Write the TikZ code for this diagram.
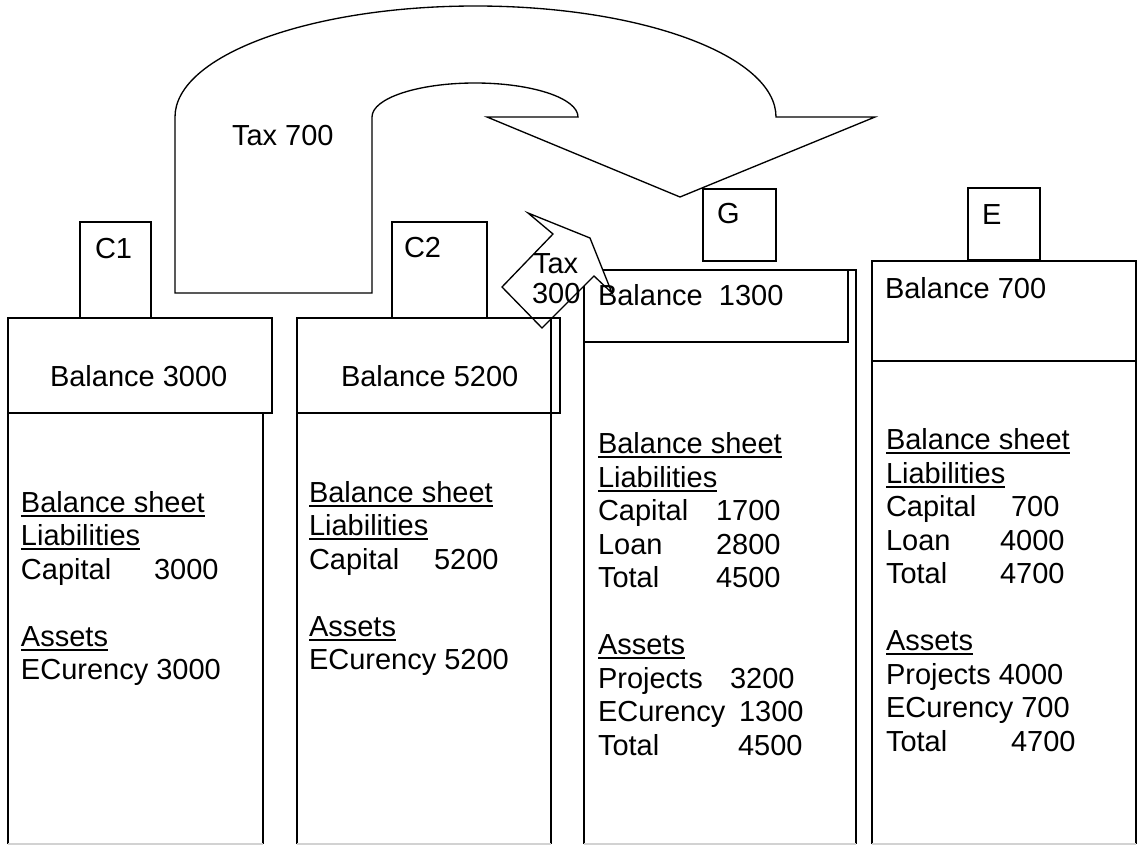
\documentclass[tikz,border=0pt]{standalone}
\usepackage{fontspec}
\setmainfont{Liberation Sans}
\newcommand{\fsz}{\fontsize{21.75pt}{26pt}\selectfont}
\newcommand{\myul}[1]{\setbox0=\hbox{#1}\rlap{\rule[-3.6pt]{\wd0}{1.6pt}}\box0}
\begin{document}
\begin{tikzpicture}[x=0.75pt,y=-0.75pt,line join=miter,
  box/.style={draw, line width=1.4pt},
  arr/.style={draw, line width=1pt},
  t/.style={anchor=base west, inner sep=0pt, outer sep=0pt, font=\fsz}]
\useasboundingbox (0,0) rectangle (1138,845);
\fill[white] (0,0) rectangle (1138,845);

% columns
\foreach \a/\b/\tp in {8/263/318, 297/551/318, 584/856/270, 872/1136/264} {
  \draw[box] (\a,844) -- (\a,\tp) -- (\b,\tp) -- (\b,844);
  \draw[gray!35, line width=1pt] (\a,844) -- (\b,844);
}

% balance boxes
\draw[box, fill=white] (8,318) rectangle (272,413);
\draw[box, fill=white] (584,270) rectangle (848,342);
\draw[box, fill=white] (872,261) rectangle (1136,361);

% tabs
\draw[box, fill=white] (80,222) rectangle (151,318);
\draw[box, fill=white] (392,222) rectangle (487,318);
\draw[box, fill=white] (703,189) rectangle (776,261);
\draw[box, fill=white] (968,188) rectangle (1040,260);

% big U-turn arrow
\draw[arr] (175,293) -- (175,117)
  .. controls (175,55.7) and (309.5,6) .. (475.5,6)
  .. controls (641.5,6) and (776,55.7) .. (776,117)
  -- (875,117) -- (680,197) -- (487,117) -- (578,117)
  .. controls (578,98.2) and (531.9,83) .. (475,83)
  .. controls (418.1,83) and (372,98.2) .. (372,117)
  -- (372,293) -- cycle;

% small arrow
\draw[arr, fill=white] (528,213) -- (590,238) -- (612,293) -- (594,276)
  -- (542,328) -- (502,287) -- (553,234) -- cycle;

% C2 balance box (outline only, over the small arrow)
\draw[box] (297,318) rectangle (560,413);

% labels
\node[t] (tax7) at (232,146) {Tax 700};
\node[t] (tax3a) at (533,273) {Tax};
\node[t] (tax3b) at (532,303) {300};
\node[t] (lc1) at (95,258) {C1};
\node[t] (lc2) at (404,257) {C2};
\node[t] (lg) at (717,223) {G};
\node[t] (le) at (982,224) {E};

\node[t] (b1) at (50,386) {Balance 3000};
\node[t] (b2) at (341,386) {Balance 5200};
\node[t] (b3) at (598,305) {Balance\ \ 1300};
\node[t] (b4) at (885,298) {Balance 700};

% column 1
\node[t] (c1bs) at (21,512) {\myul{Balance sheet}};
\node[t] (c1li) at (21,545.5) {\myul{Liabilities}};
\node[t] (c1ca) at (21,579) {Capital};
\node[t] (c1cav) at (154,579) {3000};
\node[t] (c1as) at (21,646) {\myul{Assets}};
\node[t] (c1ec) at (21,679.5) {ECurency 3000};

% column 2
\node[t] (c2bs) at (309,502) {\myul{Balance sheet}};
\node[t] (c2li) at (309,535.5) {\myul{Liabilities}};
\node[t] (c2ca) at (309,569) {Capital};
\node[t] (c2cav) at (434,569) {5200};
\node[t] (c2as) at (309,636) {\myul{Assets}};
\node[t] (c2ec) at (309,669.5) {ECurency 5200};

% column 3
\node[t] (c3bs) at (598,453.5) {\myul{Balance sheet}};
\node[t] (c3li) at (598,487) {\myul{Liabilities}};
\node[t] (c3ca) at (598,520.5) {Capital};
\node[t] (c3cav) at (716,520.5) {1700};
\node[t] (c3lo) at (598,554) {Loan};
\node[t] (c3lov) at (716,554) {2800};
\node[t] (c3to) at (598,587.5) {Total};
\node[t] (c3tov) at (716,587.5) {4500};
\node[t] (c3as) at (598,654.5) {\myul{Assets}};
\node[t] (c3pr) at (598,688) {Projects};
\node[t] (c3prv) at (730,688) {3200};
\node[t] (c3ec) at (598,721.5) {ECurency};
\node[t] (c3ecv) at (739,721.5) {1300};
\node[t] (c3t2) at (598,755) {Total};
\node[t] (c3t2v) at (738,755) {4500};

% column 4
\node[t] (c4bs) at (886,449.5) {\myul{Balance sheet}};
\node[t] (c4li) at (886,483) {\myul{Liabilities}};
\node[t] (c4ca) at (886,516.5) {Capital};
\node[t] (c4cav) at (1011,516.5) {700};
\node[t] (c4lo) at (886,550) {Loan};
\node[t] (c4lov) at (1000,550) {4000};
\node[t] (c4to) at (886,583.5) {Total};
\node[t] (c4tov) at (1000,583.5) {4700};
\node[t] (c4as) at (886,650.5) {\myul{Assets}};
\node[t] (c4pr) at (886,684) {Projects 4000};
\node[t] (c4ec) at (886,717.5) {ECurency 700};
\node[t] (c4t2) at (886,751) {Total};
\node[t] (c4t2v) at (1011,751) {4700};
\end{tikzpicture}
\end{document}
